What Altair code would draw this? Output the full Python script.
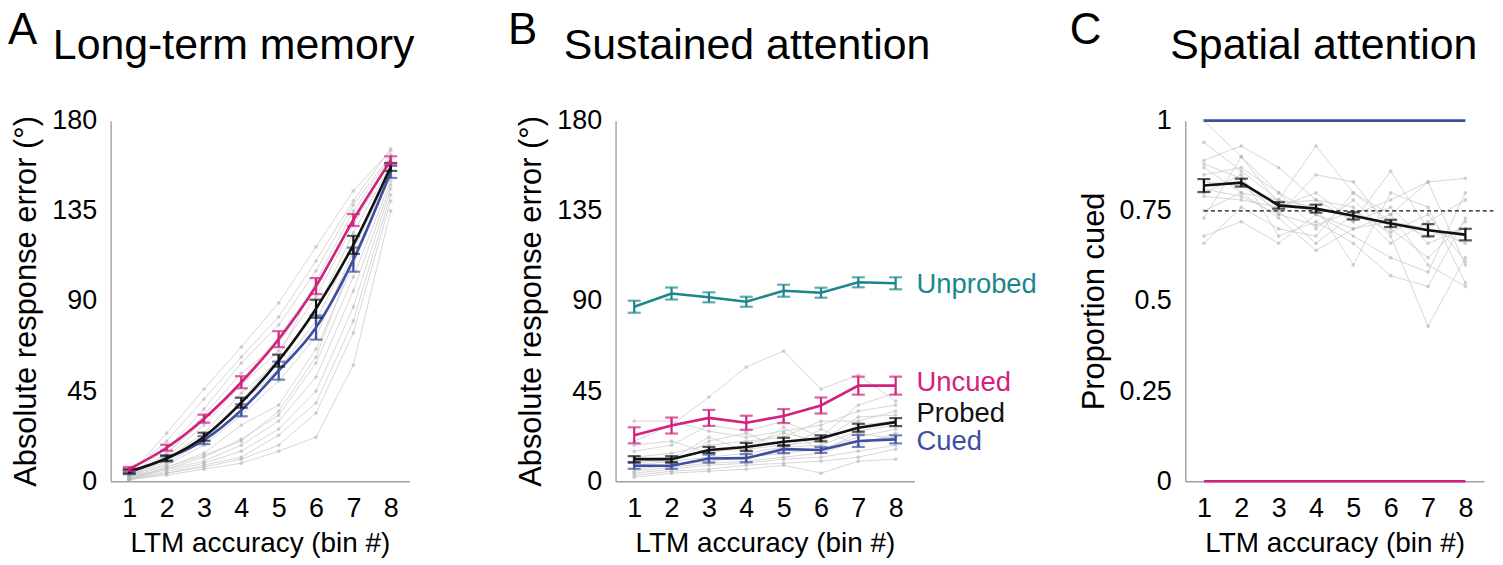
import altair as alt
import pandas as pd

BINS = [1, 2, 3, 4, 5, 6, 7, 8]

MAGENTA = "#d4207f"
BLUE = "#3f4fa0"
TEAL = "#1b878c"
BLACK = "#111111"
FONT = "Liberation Sans"

# ---------------- Panel A : Long-term memory ----------------
A_UNCUED = [6.1, 16.7, 31.2, 49.4, 70.9, 97.4, 130.4, 160.2]
A_UNCUED_SE = [1.0, 1.5, 2.0, 3.0, 4.0, 4.0, 3.0, 2.0]
A_PROBED = [5.0, 11.4, 22.2, 39.2, 60.2, 86.1, 118.0, 156.9]
A_PROBED_SE = [1.0, 1.5, 2.0, 2.5, 3.0, 4.5, 4.5, 2.0]
A_CUED = [4.5, 11.4, 20.5, 35.4, 55.2, 76.7, 110.6, 154.4]
A_CUED_SE = [1.0, 1.0, 2.0, 3.0, 4.5, 6.0, 6.0, 3.0]
A_SUBJECTS = [
    [3, 24, 46, 67, 89, 117, 145, 165],
    [4, 20, 41, 62, 82, 110, 140, 166],
    [3, 16, 36, 59, 78, 105, 138, 163],
    [2, 13, 33, 54, 69, 96, 132, 161],
    [3, 12, 28, 48, 65, 92, 128, 160],
    [2, 11, 24, 44, 60, 85, 124, 158],
    [1, 9, 20, 39, 56, 80, 118, 157],
    [2, 8, 18, 33, 50, 72, 115, 155],
    [1, 7, 14, 28, 38, 66, 108, 153],
    [1, 6, 12, 21, 33, 59, 102, 150],
    [2, 6, 10, 18, 30, 52, 95, 148],
    [1, 5, 9, 15, 26, 45, 87, 146],
    [1, 4, 8, 12, 23, 39, 80, 143],
    [0.5, 4, 7, 11, 18, 34, 74, 140],
    [1, 3, 6, 9, 15, 22, 58, 135],
    [2, 10, 22, 40, 62, 100, 135, 162],
    [1, 7, 13, 20, 35, 62, 112, 152],
    [2, 14, 30, 50, 72, 98, 131, 159],
]

# ---------------- Panel B : Sustained attention ----------------
B_UNPROBED = [87.1, 93.7, 91.8, 89.6, 95.1, 94.1, 99.3, 98.8]
B_UNPROBED_SE = [3.0, 3.0, 2.5, 2.5, 3.0, 2.5, 2.5, 3.0]
B_UNCUED = [22.9, 27.8, 31.6, 29.2, 32.5, 37.8, 47.7, 47.7]
B_UNCUED_SE = [4.0, 4.0, 4.0, 3.5, 3.5, 4.0, 4.5, 4.5]
B_PROBED = [11.0, 11.0, 15.6, 17.1, 19.7, 21.4, 26.7, 29.5]
B_PROBED_SE = [1.5, 1.5, 1.5, 2.0, 2.0, 1.5, 2.0, 2.0]
B_CUED = [7.7, 7.7, 11.3, 11.5, 16.0, 15.6, 20.1, 20.9]
B_CUED_SE = [1.5, 1.5, 2.0, 2.0, 2.0, 1.5, 3.0, 2.0]
B_SUBJECTS = [
    [20, 28, 42, 57, 65, 46, 53, 40],
    [30, 30, 25, 22, 25, 28, 35, 38],
    [15, 18, 28, 25, 30, 22, 38, 44],
    [12, 14, 18, 20, 22, 30, 30, 35],
    [10, 12, 15, 16, 18, 20, 28, 30],
    [8, 10, 12, 14, 17, 18, 25, 28],
    [6, 8, 10, 12, 14, 16, 22, 26],
    [5, 7, 9, 10, 12, 14, 20, 22],
    [4, 6, 8, 9, 11, 12, 15, 18],
    [3, 5, 6, 8, 9, 10, 12, 16],
    [2, 4, 5, 6, 8, 4, 10, 11],
    [11, 9, 20, 24, 16, 26, 18, 24],
    [18, 20, 14, 18, 24, 20, 32, 33],
    [9, 11, 22, 15, 27, 15, 24, 21],
]
B_LABELS = ["Unprobed", "Uncued", "Probed", "Cued"]
B_LABEL_Y = [97.9, 49.2, 33.3, 19.4]
B_LABEL_COLORS = [TEAL, MAGENTA, BLACK, BLUE]

# ---------------- Panel C : Spatial attention ----------------
C_PROP = [0.820, 0.828, 0.765, 0.756, 0.736, 0.715, 0.696, 0.684]
C_PROP_SE = [0.018, 0.011, 0.009, 0.011, 0.010, 0.010, 0.017, 0.016]
C_CUED_LEVEL = 1.0
C_UNCUED_LEVEL = 0.0
C_CHANCE = 0.75
C_CHANCE_END = 8.75
C_SUBJECTS = [
    [1.00, 0.90, 0.80, 0.74, 0.70, 0.72, 0.68, 0.70],
    [0.94, 0.86, 0.78, 0.93, 0.80, 0.74, 0.83, 0.84],
    [0.89, 0.93, 0.87, 0.78, 0.72, 0.86, 0.70, 0.66],
    [0.88, 0.84, 0.74, 0.85, 0.83, 0.70, 0.62, 0.72],
    [0.87, 0.80, 0.78, 0.76, 0.60, 0.80, 0.76, 0.55],
    [0.85, 0.87, 0.80, 0.70, 0.78, 0.68, 0.43, 0.62],
    [0.83, 0.82, 0.75, 0.66, 0.74, 0.78, 0.83, 0.60],
    [0.80, 0.85, 0.68, 0.72, 0.66, 0.57, 0.54, 0.73],
    [0.79, 0.78, 0.76, 0.80, 0.72, 0.76, 0.66, 0.70],
    [0.75, 0.80, 0.73, 0.64, 0.70, 0.74, 0.60, 0.54],
    [0.73, 0.90, 0.77, 0.78, 0.76, 0.66, 0.72, 0.78],
    [0.68, 0.72, 0.66, 0.74, 0.68, 0.62, 0.58, 0.80],
    [0.66, 0.76, 0.70, 0.68, 0.80, 0.72, 0.70, 0.68],
    [0.81, 0.79, 0.74, 0.71, 0.75, 0.69, 0.74, 0.61],
]

PANEL_LETTERS = ["A", "B", "C"]
PANEL_TITLES = ["Long-term memory", "Sustained attention", "Spatial attention"]

W, H = 300, 362


def x_enc():
    return alt.X(
        "bin:Q",
        scale=alt.Scale(domain=[0.5, 8.5], nice=False, zero=False),
        axis=alt.Axis(values=BINS, format="d", title="LTM accuracy (bin #)"),
    )


def y_enc(field, domain, values, title):
    return alt.Y(field, scale=alt.Scale(domain=domain, nice=False, zero=False),
                 axis=alt.Axis(values=values, title=title, labelExpr="toString(datum.value)"))


def subjects_df(rows):
    recs = []
    for i, r in enumerate(rows):
        for b, v in zip(BINS, r):
            recs.append({"subject": i, "bin": b, "v": v})
    return pd.DataFrame(recs)


def mean_df(vals, se):
    return pd.DataFrame({"bin": BINS, "v": vals,
                         "lo": [a - s for a, s in zip(vals, se)],
                         "hi": [a + s for a, s in zip(vals, se)]})


def subject_layers(rows, yfn):
    df = subjects_df(rows)
    ln = alt.Chart(df).mark_line(color="#cccccc", strokeWidth=1, opacity=0.8).encode(
        x=x_enc(), y=yfn("v:Q"), detail="subject:N")
    pt = alt.Chart(df).mark_circle(color="#b0b0b0", size=14, opacity=0.55).encode(
        x=x_enc(), y=yfn("v:Q"))
    return [ln, pt]


def mean_layers(vals, se, color, yfn, interp="linear", cap=13):
    df = mean_df(vals, se)
    line = alt.Chart(df).mark_line(color=color, strokeWidth=2.6, interpolate=interp).encode(
        x=x_enc(), y=yfn("v:Q"))
    bar = alt.Chart(df).mark_rule(color=color, strokeWidth=2.2).encode(
        x=x_enc(), y=yfn("lo:Q"), y2="hi:Q")
    lo = alt.Chart(df).mark_tick(color=color, thickness=2.2, size=cap, orient="horizontal").encode(
        x=x_enc(), y=yfn("lo:Q"))
    hi = alt.Chart(df).mark_tick(color=color, thickness=2.2, size=cap, orient="horizontal").encode(
        x=x_enc(), y=yfn("hi:Q"))
    return [line, bar, lo, hi]


def heading_layers(letter, letter_x, title_text, title_x):
    let = alt.Chart(pd.DataFrame({"t": [letter]})).mark_text(
        align="left", baseline="alphabetic", fontSize=44, font=FONT, color="black"
    ).encode(text="t:N", x=alt.value(letter_x), y=alt.value(-77))
    tit = alt.Chart(pd.DataFrame({"t": [title_text]})).mark_text(
        align="left", baseline="alphabetic", fontSize=43, font=FONT, color="black"
    ).encode(text="t:N", x=alt.value(title_x), y=alt.value(-62))
    return [let, tit]


def yA(field):
    return y_enc(field, [0, 180], [0, 45, 90, 135, 180], "Absolute response error (°)")


def yC(field):
    return y_enc(field, [0, 1], [0, 0.25, 0.5, 0.75, 1], "Proportion cued")


# Panel A
layersA = subject_layers(A_SUBJECTS, yA)
layersA += mean_layers(A_CUED, A_CUED_SE, BLUE, yA, "monotone")
layersA += mean_layers(A_PROBED, A_PROBED_SE, BLACK, yA, "monotone")
layersA += mean_layers(A_UNCUED, A_UNCUED_SE, MAGENTA, yA, "monotone")
layersA += heading_layers(PANEL_LETTERS[0], -103, PANEL_TITLES[0], -58)
chartA = alt.layer(*layersA).properties(width=W, height=H)

# Panel B
layersB = subject_layers(B_SUBJECTS, yA)
layersB += mean_layers(B_UNPROBED, B_UNPROBED_SE, TEAL, yA)
layersB += mean_layers(B_CUED, B_CUED_SE, BLUE, yA)
layersB += mean_layers(B_PROBED, B_PROBED_SE, BLACK, yA)
layersB += mean_layers(B_UNCUED, B_UNCUED_SE, MAGENTA, yA)
lab_df = pd.DataFrame({"label": B_LABELS, "v": B_LABEL_Y, "bin": [8] * len(B_LABELS)})
layersB.append(alt.Chart(lab_df).mark_text(
    align="left", baseline="middle", dx=21, fontSize=27.5, font=FONT
).encode(x=x_enc(), y=yA("v:Q"), text="label:N",
         color=alt.Color("label:N", scale=alt.Scale(domain=B_LABELS, range=B_LABEL_COLORS), legend=None)))
layersB += heading_layers(PANEL_LETTERS[1], -108, PANEL_TITLES[1], -52)
chartB = alt.layer(*layersB).properties(width=W, height=H)

# Panel C
layersC = subject_layers(C_SUBJECTS, yC)
chance_df = pd.DataFrame({"bin": [1], "bin2": [C_CHANCE_END], "v": [C_CHANCE]})
layersC.append(alt.Chart(chance_df).mark_rule(color=BLACK, strokeWidth=1.3, strokeDash=[4, 3]).encode(
    x=x_enc(), x2="bin2:Q", y=yC("v:Q")))
level_df = pd.DataFrame({"bin": [1, 1], "bin2": [8, 8], "v": [C_CUED_LEVEL, C_UNCUED_LEVEL],
                         "which": ["Cued", "Uncued"]})
layersC.append(alt.Chart(level_df).mark_rule(strokeWidth=2.6).encode(
    x=x_enc(), x2="bin2:Q", y=yC("v:Q"),
    color=alt.Color("which:N", scale=alt.Scale(domain=["Cued", "Uncued"], range=[BLUE, MAGENTA]), legend=None)))
layersC += mean_layers(C_PROP, C_PROP_SE, BLACK, yC)
layersC += heading_layers(PANEL_LETTERS[2], -116, PANEL_TITLES[2], -15)
chartC = alt.layer(*layersC).properties(width=W, height=H)

inner = alt.hconcat(chartB, chartC, spacing=272, bounds="flush")
chart = alt.hconcat(chartA, inner, spacing=207, bounds="flush").properties(
    padding={"left": 0, "top": 0, "right": 0, "bottom": 0}
).configure_view(stroke=None).configure_axis(
    grid=False, tickSize=0, labelPadding=14, labelFontSize=27, labelFont=FONT, labelColor="black",
    titleFontSize=31, titleFont=FONT, titleFontWeight="normal", titleColor="black", titlePadding=9,
    domainColor="#a0a0a0", domainWidth=1.4,
).configure_axisX(titleFontSize=28, titlePadding=9)

chart.save("out.html", embed_options={"renderer": "svg", "actions": False})
